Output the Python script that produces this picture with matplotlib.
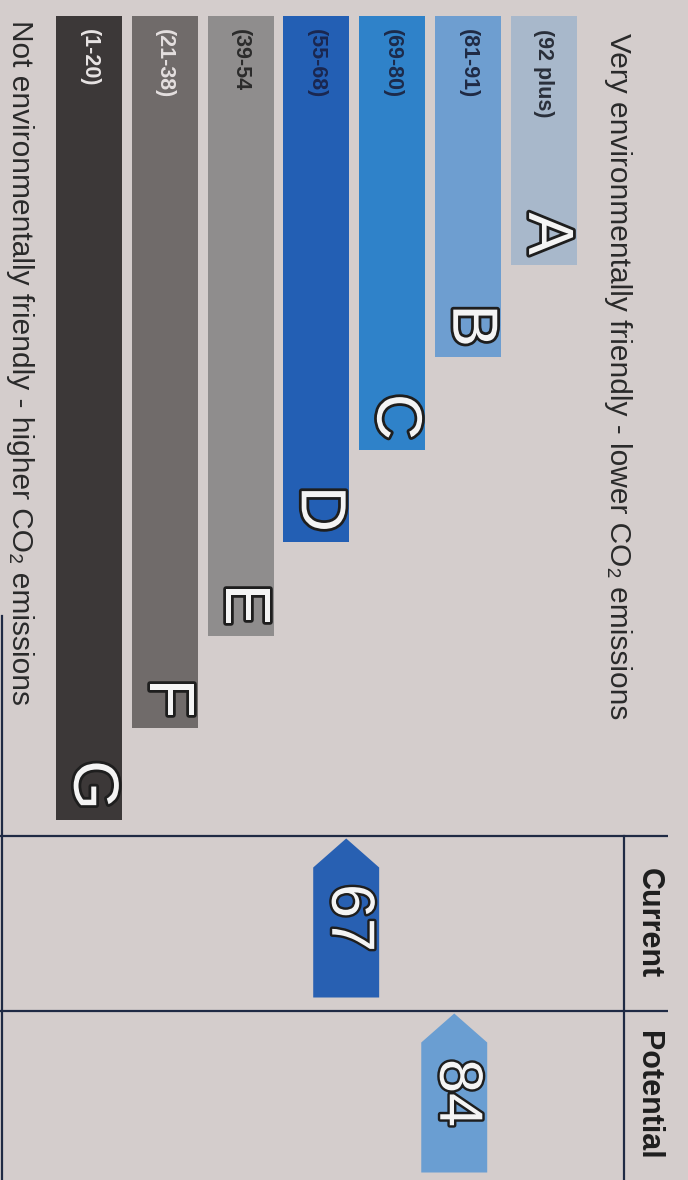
import numpy as np
import matplotlib
matplotlib.use("Agg")
import matplotlib.pyplot as plt
from matplotlib.patches import Polygon
import matplotlib.patheffects as pe

# ---- data ----
bands = ["A", "B", "C", "D", "E", "F", "G"]
band_ranges = ["(92 plus)", "(81-91)", "(69-80)", "(55-68)", "(39-54", "(21-38)", "(1-20)"]
band_low = [92, 81, 69, 55, 39, 21, 1]
band_high = [100, 91, 80, 68, 54, 38, 20]
band_length = [2.49, 3.41, 4.34, 5.26, 6.20, 7.12, 8.04]
band_colors = ["#a8b8cb", "#6e9ed0", "#2f82c9", "#235fb4", "#8f8d8d", "#706b6a", "#3c3838"]
label_colors = ["#2a2f3a", "#1f2a44", "#1c2a4a", "#1a2750", "#2b2b2b", "#e4dfdf", "#e8e4e4"]
rating_names = ["Current", "Potential"]
rating_values = [67, 84]
rating_colors = ["#2860b2", "#6a9ed2"]

top_text = "Very environmentally friendly - lower CO\u2082 emissions"
bottom_text = "Not environmentally friendly - higher CO\u2082 emissions"

# ---- style ----
bg = "#d4cdcc"
line_c = "#1f2a44"
fam = ["Liberation Sans", "DejaVu Sans"]
plt.rcParams["font.family"] = fam

fig = plt.figure(figsize=(6.88, 11.8), dpi=100, facecolor=bg)
ax = fig.add_axes([0, 0, 1, 1])
ax.set_facecolor(bg)
ax.set_xlim(-1.174, 7.902)
ax.set_ylim(11.64, -0.16)
ax.axis("off")

n = len(bands)
pos = np.array([n - 1 - i for i in range(n)], dtype=float)  # A on the right
bw = 0.87

ax.bar(pos, band_length, width=bw, bottom=0, color=band_colors, edgecolor="none")

for i in range(n):
    ax.text(pos[i], 0.13, band_ranges[i], rotation=-90, rotation_mode="anchor",
            ha="left", va="center", fontsize=15.5, fontweight="bold",
            color=label_colors[i])
    ax.text(pos[i] + 0.03, band_length[i] - 0.10, bands[i], rotation=-90,
            rotation_mode="anchor", ha="right", va="center", fontsize=46,
            fontweight="normal", color="#f4f4f4",
            path_effects=[pe.Stroke(linewidth=4, foreground="#1e1e1e"), pe.Normal()])

ax.text(6.98, 0.17, top_text, rotation=-90, rotation_mode="anchor",
        ha="left", va="center", fontsize=21.5, color="#2a2a2a")
ax.text(-0.91, 0.04, bottom_text, rotation=-90, rotation_mode="anchor",
        ha="left", va="center", fontsize=21.5, color="#2a2a2a")

# ---- rating panel ----
row_top = [8.20, 9.95]
row_bottom = [9.95, 11.64]
x_left, x_right, x_div = -1.174, 7.64, 7.06
for yl in row_top:
    ax.plot([x_left, x_right], [yl, yl], color=line_c, lw=1.6, solid_capstyle="butt")
ax.plot([x_div, x_div], [row_top[0], 11.64], color=line_c, lw=1.6)
ax.plot([-1.15, -1.15], [6.0, 11.64], color=line_c, lw=1.6)


def rating_pos(r):
    for i in range(n):
        if band_low[i] <= r <= band_high[i]:
            frac = (r - band_low[i] + 0.5) / (band_high[i] - band_low[i] + 1)
            return pos[i] - 0.5 + frac
    return pos[0]


hw = bw / 2
for j, (name, val, col) in enumerate(zip(rating_names, rating_values, rating_colors)):
    k = rating_pos(val)
    tip = row_top[j] + 0.025
    shoulder = tip + 0.29
    bot = tip + 1.59
    poly = Polygon([(k - hw, bot), (k - hw, shoulder), (k, tip),
                    (k + hw, shoulder), (k + hw, bot)],
                   closed=True, facecolor=col, edgecolor="none")
    ax.add_patch(poly)
    ax.text(k + 0.02, (tip + bot) / 2, str(val), rotation=-90, rotation_mode="anchor",
            ha="center", va="center", fontsize=44, color="#f4f4f4",
            path_effects=[pe.Stroke(linewidth=3.5, foreground="#1e1e1e"), pe.Normal()])
    ax.text((x_div + x_right) / 2 + 0.03, (row_top[j] + row_bottom[j]) / 2 + 0.0, name,
            rotation=-90, rotation_mode="anchor", ha="center", va="center",
            fontsize=22, fontweight="bold", color="#1e1e1e")

fig.savefig("out.png", dpi=100, facecolor=bg)
